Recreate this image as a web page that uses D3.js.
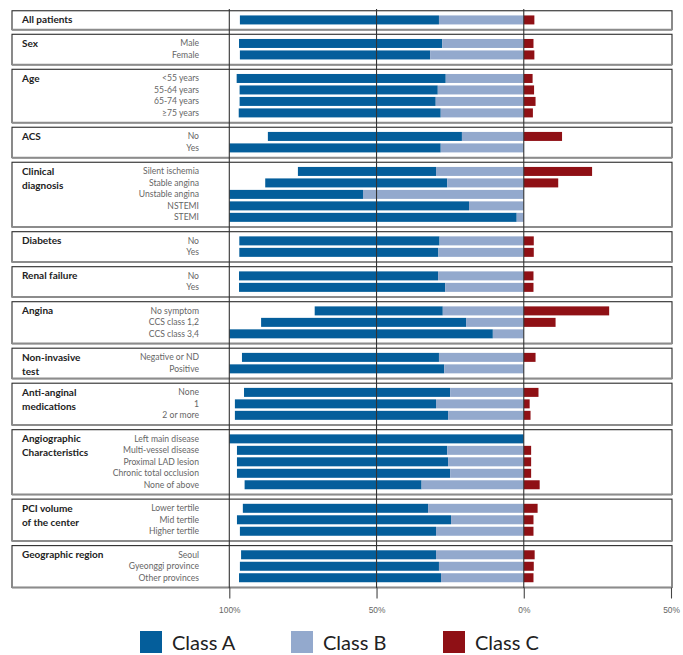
<!DOCTYPE html>
<html>
<head>
<meta charset="utf-8">
<script src="https://cdn.jsdelivr.net/npm/d3@7"></script>
<style>
  body { margin: 0; background: #fff; }
  svg { display: block; font-family: Lato, "Open Sans", sans-serif; }
  .title { font-weight: bold; font-size: 10px; fill: #222; }
  .cat { font-size: 8.6px; fill: #666; }
  .tick-label { font-size: 8.4px; fill: #666; }
  .legend-text { font-size: 20px; fill: #222; }
</style>
</head>
<body>
<svg id="chart" width="683" height="655"></svg>
<script>
// group titles (some wrap on two lines)
var groupTitles = [
  ["All patients"], ["Sex"], ["Age"], ["ACS"], ["Clinical", "diagnosis"],
  ["Diabetes"], ["Renal failure"], ["Angina"], ["Non-invasive", "test"],
  ["Anti-anginal", "medications"], ["Angiographic", "Characteristics"],
  ["PCI volume", "of the center"], ["Geographic region"]
];

var groupCategories = [
  [""],
  ["Male", "Female"],
  ["<55 years", "55-64 years", "65-74 years", "\u226575 years"],
  ["No", "Yes"],
  ["Silent ischemia", "Stable angina", "Unstable angina", "NSTEMI", "STEMI"],
  ["No", "Yes"],
  ["No", "Yes"],
  ["No symptom", "CCS class 1,2", "CCS class 3,4"],
  ["Negative or ND", "Positive"],
  ["None", "1", "2 or more"],
  ["Left main disease", "Multi-vessel disease", "Proximal LAD lesion", "Chronic total occlusion", "None of above"],
  ["Lower tertile", "Mid tertile", "Higher tertile"],
  ["Seoul", "Gyeonggi province", "Other provinces"]
];

// percentages, same order as the categories above
var classA = [67.6, 69.0, 64.6, 71.0, 67.3, 66.6, 68.6, 65.9, 71.8, 46.9, 61.8, 45.4, 81.4, 97.6,
  68.0, 67.6, 67.6, 70.0, 43.5, 69.6, 89.5, 66.9, 73.0, 70.0, 68.3, 72.4,
  100, 71.4, 71.7, 72.4, 60.1, 62.9, 72.7, 66.6, 66.2, 67.6, 68.6];
var classB = [28.8, 27.7, 31.8, 26.5, 29.2, 29.9, 28.2, 21.0, 28.2, 29.8, 26.0, 54.6, 18.6, 2.4,
  28.6, 29.0, 29.1, 26.7, 27.5, 19.6, 10.5, 28.8, 27.0, 25.0, 29.8, 25.7,
  0, 26.0, 25.7, 25.0, 34.7, 32.5, 24.7, 29.8, 29.8, 28.8, 28.1];
var classC = [3.6, 3.3, 3.6, 3.0, 3.5, 4.0, 3.1, 13.0, 0, 23.2, 11.7, 0, 0, 0,
  3.4, 3.4, 3.3, 3.3, 29.0, 10.8, 0, 4.0, 0, 5.0, 2.0, 2.3,
  0, 2.5, 2.5, 2.5, 5.4, 4.7, 3.3, 3.3, 3.7, 3.4, 3.3];

var axisTicks = [-100, -50, 0, 50];
var seriesNames = ["Class A", "Class B", "Class C"];
var colors = ["#045e9b", "#93a9cd", "#8f1015"];

var svg = d3.select("#chart");

var x = d3.scaleLinear().domain([-100, 50]).range([229.3, 671]);

// vertical layout in "row units"
var padTop = 0.3, padBottom = 0.35, gap = 0.4;
var groups = [], rows = [], u = 0, k = 0;
groupTitles.forEach(function(t, gi) {
  var cats = groupCategories[gi];
  var g = { title: t, start: u, end: u + padTop + cats.length + padBottom };
  cats.forEach(function(c, i) {
    rows.push({ label: c, pos: u + padTop + i + 0.5, a: classA[k], b: classB[k], c: classC[k] });
    k++;
  });
  groups.push(g);
  u = g.end + gap;
});
var totalUnits = u - gap;
var y = d3.scaleLinear().domain([0, totalUnits]).range([10.75, 587.5]);
var barH = 9;

// boxes
var boxL = 12, boxR = 672;
var box = svg.append("g").selectAll("g").data(groups).enter().append("g");
box.append("rect")
  .attr("x", boxL).attr("y", function(d) { return y(d.start); })
  .attr("width", boxR - boxL)
  .attr("height", function(d) { return y(d.end) - y(d.start); })
  .attr("fill", "none").attr("stroke", "#2b2b2b").attr("stroke-width", 1.1);
box.append("line")
  .attr("x1", boxL).attr("x2", boxR)
  .attr("y1", function(d) { return y(d.end); })
  .attr("y2", function(d) { return y(d.end); })
  .attr("stroke", "#8c8c8c").attr("stroke-width", 2);

// group titles
box.append("text").attr("class", "title")
  .attr("x", 22)
  .attr("y", function(d) { return y(d.start + padTop + 0.5) + 3.5; })
  .selectAll("tspan").data(function(d) { return d.title; }).enter().append("tspan")
  .attr("x", 22).attr("dy", function(d, i) { return i ? 14 : 0; })
  .text(function(d) { return d; });

// category labels
svg.append("g").selectAll("text").data(rows).enter().append("text")
  .attr("class", "cat")
  .attr("x", 199).attr("y", function(d) { return y(d.pos) + 3; })
  .attr("text-anchor", "end")
  .text(function(d) { return d.label; });

// bars
var bars = svg.append("g");
bars.selectAll(".a").data(rows).enter().append("rect")
  .attr("x", function(d) { return x(-(d.a + d.b)); })
  .attr("width", function(d) { return x(-d.b) - x(-(d.a + d.b)); })
  .attr("y", function(d) { return y(d.pos) - barH / 2; })
  .attr("height", barH).attr("fill", colors[0]);
bars.selectAll(".b").data(rows).enter().append("rect")
  .attr("x", function(d) { return x(-d.b); })
  .attr("width", function(d) { return x(0) - x(-d.b); })
  .attr("y", function(d) { return y(d.pos) - barH / 2; })
  .attr("height", barH).attr("fill", colors[1]);
bars.selectAll(".c").data(rows).enter().append("rect")
  .attr("x", x(0))
  .attr("width", function(d) { return x(d.c) - x(0); })
  .attr("y", function(d) { return y(d.pos) - barH / 2; })
  .attr("height", barH).attr("fill", colors[2]);

// grid lines over the bars
svg.append("g").selectAll("line").data(axisTicks.slice(0, 3)).enter().append("line")
  .attr("x1", function(d) { return x(d); }).attr("x2", function(d) { return x(d); })
  .attr("y1", 9).attr("y2", 588)
  .attr("stroke", "#333").attr("stroke-width", 1.1);

// bottom axis
var axis = svg.append("g")
  .attr("transform", "translate(0,587.5)")
  .call(d3.axisBottom(x).tickValues(axisTicks).tickSize(11).tickSizeOuter(0)
    .tickFormat(function(d) { return Math.abs(d) + "%"; }));
axis.select(".domain").remove();
axis.selectAll(".tick line").attr("stroke", "#444").attr("stroke-width", 1.1);
axis.selectAll(".tick text").attr("class", "tick-label").attr("font-family", null)
  .attr("font-size", null).attr("fill", null).attr("y", 20);

// legend
var leg = svg.append("g").selectAll("g").data(seriesNames).enter().append("g")
  .attr("transform", function(d, i) { return "translate(" + [140, 291, 443][i] + ",631)"; });
leg.append("rect").attr("width", 22).attr("height", 22)
  .attr("fill", function(d, i) { return colors[i]; });
leg.append("text").attr("class", "legend-text")
  .attr("x", 32).attr("y", 19)
  .text(function(d) { return d; });
</script>
</body>
</html>
